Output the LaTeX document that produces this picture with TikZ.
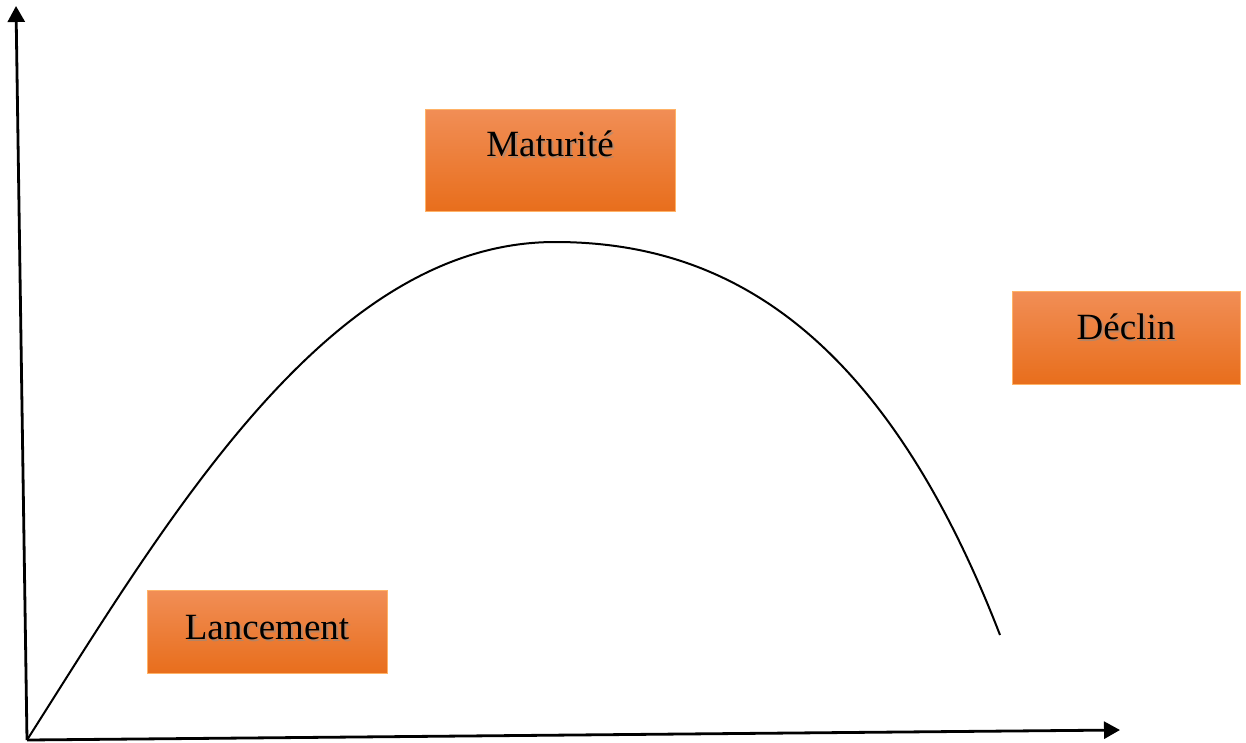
\documentclass[tikz,border=0pt]{standalone}
\usepackage{fontspec}
\setmainfont{Liberation Serif}
\usetikzlibrary{arrows.meta}
\tikzset{
  phase/.style={draw=orange!60!white, line width=0.6pt, top color={rgb,255:red,241;green,142;blue,86}, bottom color={rgb,255:red,232;green,110;blue,28}},
  axis/.style={line width=2.8pt, -{Triangle[length=16pt,width=17pt]}},
  lbl/.style={font=\fontsize{37}{40}\selectfont, anchor=base},
  shd/.style={lbl, text=black!45, opacity=0.55}
}
\begin{document}
\begin{tikzpicture}[x=1pt,y=-1pt]
\useasboundingbox (0,0) rectangle (1246,742);
\coordinate (O) at (27,740);
\coordinate (ytop) at (16,6);
\coordinate (xend) at (1120,730);
\coordinate (peak) at (555,242);
\coordinate (end) at (1000,635);
\draw[axis] (O) -- (ytop);
\draw[axis] (O) -- (xend);
\draw[line width=2pt] (O) .. controls (170,515) and (330,242) .. (peak)
  .. controls (720,242) and (880,325) .. (end);
% boxes
\path[phase] (425,109) rectangle (675,211);
\node[shd] at (552,158) {Maturité};
\node[lbl] (mat) at (550,156) {Maturité};
\path[phase] (147,590) rectangle (387,673);
\node[shd] at (269,641) {Lancement};
\node[lbl] (lan) at (267,639) {Lancement};
\path[phase] (1012,291) rectangle (1240,384);
\node[shd] at (1128,341) {Déclin};
\node[lbl] (dec) at (1126,339) {Déclin};
\end{tikzpicture}
\end{document}
